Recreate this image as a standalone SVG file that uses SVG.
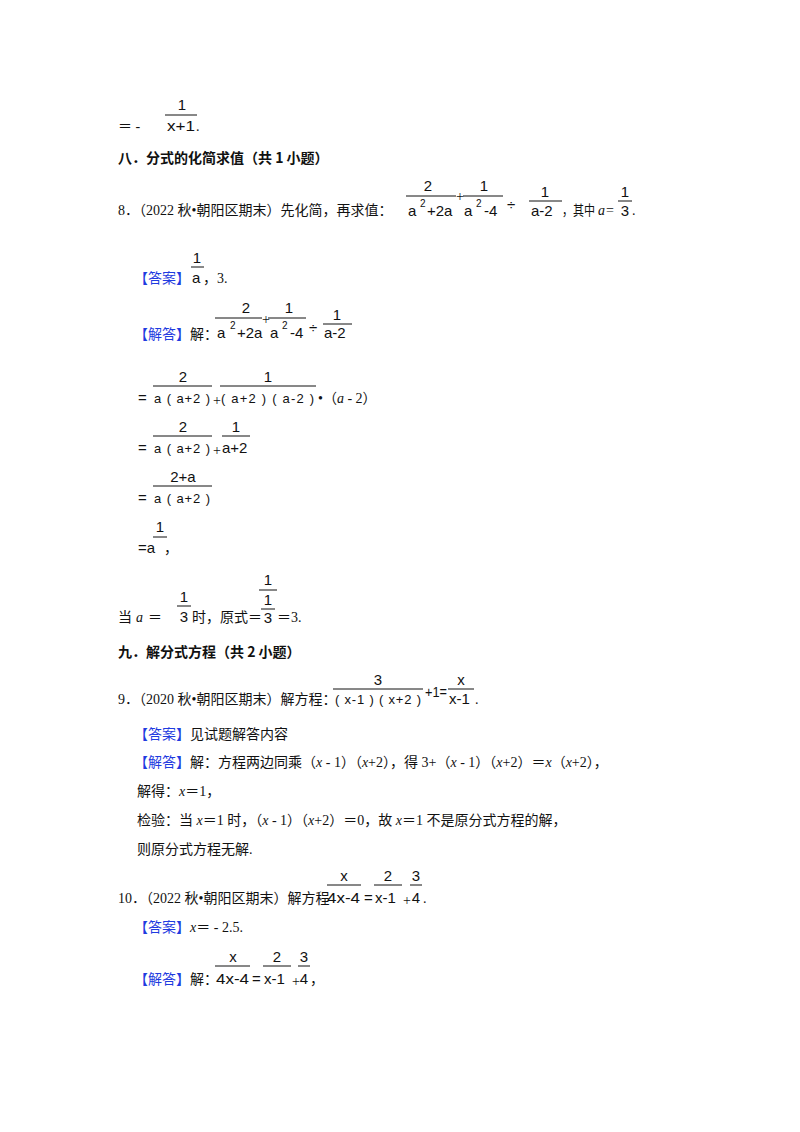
<svg xmlns="http://www.w3.org/2000/svg" width="800" height="1132" viewBox="0 0 800 1132">
<style>
text{font-family:"Liberation Serif","Noto Sans CJK SC",serif;font-size:14px;fill:#111}
.m{font-family:"Liberation Sans","DejaVu Sans",sans-serif;font-size:15px}
.n{font-family:"Liberation Sans","DejaVu Sans",sans-serif;font-size:13px}
.s{font-family:"Liberation Sans",sans-serif;font-size:10px}
.h{font-family:"Noto Sans CJK SC",sans-serif;font-weight:bold;font-size:14px}
.b{fill:#1f3ce0}
.c{text-anchor:middle}
line{stroke:#111;stroke-width:1}
</style>
<rect width="800" height="1132" fill="#fff"/>
<!-- top -->
<text class="m c" x="182" y="110">1</text><line x1="165" y1="115" x2="197" y2="115"/>
<text x="118" y="131">＝ - </text><text class="m" x="167" y="131" textLength="28" lengthAdjust="spacingAndGlyphs">x+1</text><text x="196" y="131">.</text>
<text class="h" x="118" y="163">八．分式的化简求值（共 1 小题）</text>
<!-- Q8 -->
<text x="118" y="215">8．（2022 秋•朝阳区期末）先化简，再求值：</text>
<text class="m c" x="428" y="191">2</text><line x1="406" y1="196" x2="456" y2="196"/>
<text class="m" x="408" y="216">a</text><text class="s" x="420" y="207">2</text><text class="m" x="427" y="216">+2a</text>
<text x="456" y="201">+</text>
<text class="m c" x="484" y="191">1</text><line x1="463" y1="196" x2="503" y2="196"/>
<text class="m" x="464" y="216">a</text><text class="s" x="476" y="207">2</text><text class="m" x="484" y="216">-4</text>
<text class="m" x="507" y="210">÷</text>
<text class="m c" x="545" y="197">1</text><line x1="529" y1="201" x2="562" y2="201"/>
<text class="m" x="531" y="216">a-2</text>
<text x="562" y="215" textLength="33" lengthAdjust="spacingAndGlyphs">，其中</text><text x="598" y="215" font-style="italic">a</text><text x="606" y="215">=</text>
<text class="m c" x="625" y="197">1</text><line x1="618" y1="201" x2="632" y2="201"/><text class="m c" x="625" y="216">3</text><text x="632" y="215">.</text>
<!-- answer -->
<text class="b" x="134" y="283">【答案】</text>
<text class="m c" x="197" y="263">1</text><line x1="191" y1="267" x2="204" y2="267"/>
<text class="m" x="192" y="283">a</text><text x="203" y="283">，3.</text>
<text class="b" x="134" y="339">【解答】</text><text x="190" y="339">解：</text>
<text class="m c" x="246" y="313">2</text><line x1="215" y1="318" x2="262" y2="318"/>
<text class="m" x="217" y="338">a</text><text class="s" x="230" y="329">2</text><text class="m" x="237" y="338">+2a</text>
<text x="262" y="324">+</text>
<text class="m c" x="289" y="313">1</text><line x1="268" y1="318" x2="306" y2="318"/>
<text class="m" x="270" y="338">a</text><text class="s" x="282" y="329">2</text><text class="m" x="290" y="338">-4</text>
<text class="m" x="309" y="333">÷</text>
<text class="m c" x="337" y="320">1</text><line x1="323" y1="324" x2="352" y2="324"/>
<text class="m" x="324" y="338">a-2</text>
<!-- steps -->
<text class="m c" x="183" y="382">2</text><line x1="153" y1="386" x2="212" y2="386"/>
<text class="m" x="138" y="403">=</text><text class="n" x="154" y="403" textLength="56" lengthAdjust="spacing">a ( a+2 )</text><text x="213" y="405">+</text>
<text class="m c" x="268" y="382">1</text><line x1="220" y1="386" x2="316" y2="386"/>
<text class="n" x="221" y="403" textLength="93" lengthAdjust="spacing">( a+2 ) ( a-2 )</text><text x="318" y="403">•（<tspan font-style="italic">a</tspan> - 2）</text>
<text class="m c" x="183" y="432">2</text><line x1="153" y1="436" x2="212" y2="436"/>
<text class="m" x="138" y="453">=</text><text class="n" x="154" y="453" textLength="56" lengthAdjust="spacing">a ( a+2 )</text><text x="213" y="455">+</text>
<text class="m c" x="236" y="432">1</text><line x1="222" y1="436" x2="250" y2="436"/>
<text class="m" x="222" y="453">a+2</text>
<text class="m c" x="183" y="482">2+a</text><line x1="153" y1="486" x2="212" y2="486"/>
<text class="m" x="138" y="503">=</text><text class="n" x="154" y="503" textLength="56" lengthAdjust="spacing">a ( a+2 )</text>
<text class="m c" x="160" y="532">1</text><line x1="153" y1="537" x2="167" y2="537"/>
<text class="m" x="138" y="553">=a</text><text x="164" y="553">，</text>
<text x="118" y="622">当</text><text x="136" y="622" font-style="italic">a</text><text x="148" y="622">＝</text>
<text class="m c" x="184" y="602">1</text><line x1="177" y1="606" x2="191" y2="606"/><text class="m c" x="184" y="622">3</text>
<text x="192" y="622">时，原式＝</text>
<text class="m c" x="268" y="585">1</text><line x1="259" y1="590" x2="277" y2="590"/>
<text class="m c" x="268" y="605">1</text><line x1="261" y1="609" x2="275" y2="609"/>
<text class="m c" x="268" y="623">3</text><text x="277" y="622">＝3.</text>
<text class="h" x="118" y="657">九．解分式方程（共 2 小题）</text>
<!-- Q9 -->
<text x="118" y="704">9．（2020 秋•朝阳区期末）解方程：</text>
<text class="m c" x="378" y="685">3</text><line x1="333" y1="689" x2="423" y2="689"/>
<text class="n" x="335" y="704" textLength="86" lengthAdjust="spacing">( x-1 ) ( x+2 )</text>
<text class="m" x="425" y="697" textLength="22" lengthAdjust="spacingAndGlyphs">+1=</text>
<text class="m c" x="461" y="685">x</text><line x1="448" y1="689" x2="474" y2="689"/>
<text class="m" x="449" y="704">x-1</text><text x="475" y="704">.</text>
<text class="b" x="134" y="739">【答案】</text><text x="190" y="739">见试题解答内容</text>
<text class="b" x="134" y="767">【解答】</text><text x="190" y="767">解：方程两边同乘（<tspan font-style="italic">x</tspan> - 1）（<tspan font-style="italic">x</tspan>+2），得 3+（<tspan font-style="italic">x</tspan> - 1）（<tspan font-style="italic">x</tspan>+2）＝<tspan font-style="italic">x</tspan>（<tspan font-style="italic">x</tspan>+2），</text>
<text x="137" y="796">解得：<tspan font-style="italic">x</tspan>＝1，</text>
<text x="137" y="825">检验：当 <tspan font-style="italic">x</tspan>＝1 时，（<tspan font-style="italic">x</tspan> - 1）（<tspan font-style="italic">x</tspan>+2）＝0，故 <tspan font-style="italic">x</tspan>＝1 不是原分式方程的解，</text>
<text x="137" y="854">则原分式方程无解.</text>
<!-- Q10 -->
<text x="118" y="903">10．（2022 秋•朝阳区期末）解方程</text>
<text class="m c" x="344" y="881">x</text><line x1="327" y1="885" x2="361" y2="885"/>
<text class="m" x="327" y="903" textLength="33" lengthAdjust="spacingAndGlyphs">4x-4</text><text class="m" x="364" y="903">=</text>
<text class="m c" x="388" y="881">2</text><line x1="374" y1="885" x2="402" y2="885"/>
<text class="m" x="375" y="903">x-1</text><text x="403" y="905">+</text>
<text class="m c" x="416" y="881">3</text><line x1="410" y1="885" x2="422" y2="885"/><text class="m c" x="416" y="903">4</text><text x="423" y="903">.</text>
<text class="b" x="134" y="932">【答案】</text><text x="190" y="932"><tspan font-style="italic">x</tspan>＝ - 2.5.</text>
<text class="b" x="134" y="984">【解答】</text><text x="190" y="984">解：</text>
<text class="m c" x="233" y="962">x</text><line x1="215" y1="966" x2="250" y2="966"/>
<text class="m" x="216" y="984" textLength="33" lengthAdjust="spacingAndGlyphs">4x-4</text><text class="m" x="252" y="984">=</text>
<text class="m c" x="277" y="962">2</text><line x1="263" y1="966" x2="291" y2="966"/>
<text class="m" x="264" y="984">x-1</text><text x="292" y="986">+</text>
<text class="m c" x="304" y="962">3</text><line x1="298" y1="966" x2="310" y2="966"/><text class="m c" x="304" y="984">4</text><text x="310" y="984">，</text>
</svg>
